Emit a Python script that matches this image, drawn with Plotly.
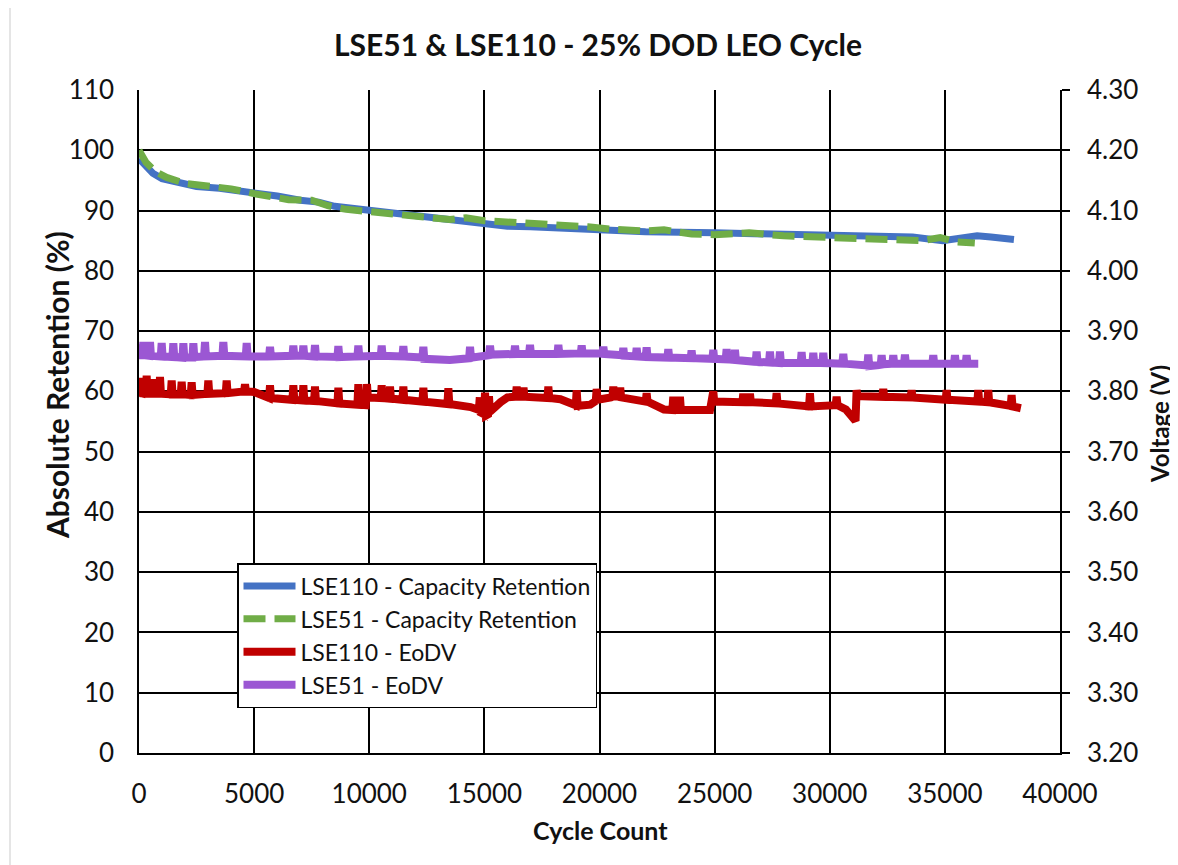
import plotly.graph_objects as go

# ---------------- data ----------------
cap110_cycles = [0, 300, 600, 1000, 1500, 2500, 3500, 5000, 6000, 7000, 7800, 8500, 10000, 11000,
                 12000, 13000, 14000, 15000, 16000, 17000, 18500, 20000, 22000, 25000, 27500, 30000,
                 32000, 33600, 34900, 35500, 36400, 37000, 38000]
cap110_values = [98.6, 97.3, 96.2, 95.3, 94.8, 94.0, 93.7, 93.0, 92.4, 91.7, 91.4, 90.7, 90.0, 89.5,
                 89.1, 88.7, 88.2, 87.7, 87.4, 87.3, 87.0, 86.7, 86.5, 86.3, 86.1, 85.9,
                 85.7, 85.6, 85.0, 85.3, 85.8, 85.6, 85.2]

cap51_cycles = [0, 300, 700, 1200, 2000, 3000, 4000, 5000, 6500, 7500, 8200, 9000, 10000, 11500,
                12500, 13500, 14200, 15000, 16500, 18000, 19500, 20500, 22000, 22800, 24000, 25000,
                26500, 28000, 30000, 31500, 33000, 34000, 34800, 35500, 36300]
cap51_values = [100.0, 98.0, 96.5, 95.5, 94.5, 94.0, 93.6, 92.8, 91.8, 91.7, 90.8, 90.2, 89.8, 89.3,
                88.7, 88.5, 88.8, 88.3, 88.0, 87.7, 87.3, 86.9, 86.6, 86.8, 86.1, 86.0,
                86.3, 85.8, 85.6, 85.4, 85.1, 85.0, 85.5, 84.8, 84.6]

eodv110_cycles = [
    0,
    110, 150, 190, 293, 333, 373, 560, 600, 640, 872, 912, 952,
    1379, 1419, 1459, 1813, 1853, 1893, 2247, 2287, 2327, 2971, 3011, 3051,
    3767, 3807, 3847, 4564, 4604, 4644, 5000, 5600,
    5650, 5690, 5730, 6663, 6703, 6743, 7098, 7138, 7178, 7604, 7644, 7684,
    8618, 8658, 8698, 9486, 9526, 9566, 9850, 9900, 9940,
    10500, 10540, 10580, 10862, 10902, 10942, 11441, 11481, 11521,
    12310, 12350, 12390, 13396, 13436, 13476, 14400, 14700,
    14760, 14800, 14840, 14990, 15028, 15068, 15160, 15200, 15240, 15700, 16000,
    16363, 16403, 16443, 16660, 16700, 16740, 17738, 17778, 17818, 18300, 18970, 19009, 19050, 19600,
    19837, 19877, 19917, 20500, 20560, 20600, 20640, 20860, 20900, 20940,
    22007, 22047, 22087, 22800, 23165, 23205, 23245, 23454, 23494, 23534, 24800, 24942, 24982,
    26205, 26245, 26285, 26494, 26534, 26574, 27652, 27692, 27732, 29100, 29140, 29180,
    30258, 30298, 30338, 30700, 30900, 31120, 31166, 31206,
    32284, 32324, 32364, 33515, 33555, 33595, 35035, 35075, 35115,
    36410, 36450, 36490, 36844, 36884, 36924, 37858, 37898, 37938, 38300]
eodv110_values = [
    3.798,
    3.797, 3.822, 3.797, 3.797, 3.826, 3.796, 3.796, 3.820, 3.796, 3.796, 3.824, 3.796,
    3.795, 3.818, 3.795, 3.795, 3.816, 3.795, 3.794, 3.815, 3.794, 3.796, 3.818, 3.796,
    3.797, 3.818, 3.797, 3.800, 3.812, 3.800, 3.799, 3.789,
    3.789, 3.810, 3.789, 3.786, 3.810, 3.786, 3.785, 3.810, 3.785, 3.784, 3.808, 3.784,
    3.780, 3.806, 3.780, 3.778, 3.812, 3.778, 3.777, 3.812, 3.790,
    3.789, 3.810, 3.789, 3.788, 3.808, 3.788, 3.786, 3.808, 3.786,
    3.783, 3.806, 3.783, 3.779, 3.805, 3.779, 3.774, 3.770,
    3.769, 3.790, 3.765, 3.762, 3.798, 3.760, 3.762, 3.792, 3.766, 3.782, 3.790,
    3.791, 3.808, 3.791, 3.791, 3.806, 3.791, 3.789, 3.808, 3.789, 3.787, 3.777, 3.802, 3.776, 3.778,
    3.784, 3.804, 3.786, 3.790, 3.791, 3.808, 3.792, 3.791, 3.806, 3.790,
    3.783, 3.797, 3.783, 3.770, 3.769, 3.791, 3.769, 3.769, 3.791, 3.769, 3.769, 3.800, 3.783,
    3.782, 3.796, 3.782, 3.782, 3.796, 3.782, 3.780, 3.797, 3.780, 3.775, 3.797, 3.775,
    3.777, 3.791, 3.777, 3.770, 3.760, 3.751, 3.802, 3.792,
    3.791, 3.804, 3.791, 3.790, 3.802, 3.790, 3.786, 3.802, 3.786,
    3.783, 3.802, 3.783, 3.782, 3.802, 3.782, 3.776, 3.794, 3.775, 3.772]

eodv51_cycles = [
    0, 40,
    149, 189, 229, 438, 478, 518, 945, 985, 1025, 1451, 1491, 1531,
    1886, 1926, 1966, 2320, 2360, 2400, 2827, 2867, 2907, 3623, 3663, 3703,
    4637, 4677, 4717, 5650, 5690, 5730, 6663, 6703, 6743, 7098, 7138, 7178,
    7604, 7644, 7684, 8618, 8658, 8698, 9486, 9526, 9566, 10500, 10540, 10580,
    11441, 11481, 11521, 12310, 12350, 12390, 13500, 14337, 14377, 14417,
    15205, 15245, 15285, 16291, 16331, 16371, 16942, 16982, 17022, 18173, 18213, 18253,
    19186, 19226, 19266, 20127, 20167, 20207, 20995, 21035, 21075, 21574, 21614, 21654,
    22007, 22047, 22087, 22948, 22988, 23028, 23959, 23999, 24039, 24902, 24942, 24982,
    25481, 25521, 25561, 25843, 25883, 25923, 26783, 26823, 26863, 27363, 27403, 27443,
    27797, 27837, 27877, 28738, 28778, 28818, 29245, 29285, 29325, 29679, 29719, 29759,
    30548, 30588, 30628, 31634, 31674, 31714, 32213, 32253, 32293, 32719, 32759, 32799,
    33226, 33266, 33306, 34456, 34496, 34536, 35397, 35437, 35477, 35904, 35944, 35984, 36450]
eodv51_values = [
    3.878, 3.860,
    3.860, 3.882, 3.860, 3.859, 3.882, 3.859, 3.858, 3.880, 3.858, 3.857, 3.880, 3.857,
    3.856, 3.880, 3.856, 3.856, 3.880, 3.857, 3.858, 3.882, 3.858, 3.859, 3.882, 3.859,
    3.858, 3.880, 3.858, 3.858, 3.874, 3.858, 3.859, 3.876, 3.859, 3.859, 3.876, 3.859,
    3.858, 3.877, 3.858, 3.857, 3.875, 3.857, 3.858, 3.876, 3.858, 3.859, 3.876, 3.859,
    3.858, 3.875, 3.858, 3.856, 3.874, 3.854, 3.852, 3.855, 3.874, 3.856,
    3.860, 3.876, 3.861, 3.862, 3.876, 3.862, 3.862, 3.877, 3.862, 3.862, 3.877, 3.862,
    3.863, 3.876, 3.863, 3.863, 3.874, 3.862, 3.860, 3.872, 3.859, 3.858, 3.872, 3.858,
    3.857, 3.873, 3.857, 3.856, 3.870, 3.856, 3.855, 3.868, 3.855, 3.854, 3.869, 3.854,
    3.853, 3.870, 3.853, 3.852, 3.869, 3.852, 3.849, 3.866, 3.849, 3.848, 3.866, 3.848,
    3.847, 3.866, 3.847, 3.847, 3.865, 3.847, 3.847, 3.864, 3.847, 3.847, 3.864, 3.847,
    3.846, 3.862, 3.846, 3.843, 3.861, 3.842, 3.844, 3.860, 3.845, 3.846, 3.860, 3.846,
    3.846, 3.861, 3.846, 3.846, 3.860, 3.846, 3.846, 3.860, 3.846, 3.846, 3.860, 3.846, 3.846]

series_names = ["LSE110 - Capacity Retention", "LSE51 - Capacity Retention",
                "LSE110 - EoDV", "LSE51 - EoDV"]

x_ticks = [0, 5000, 10000, 15000, 20000, 25000, 30000, 35000, 40000]
y_ticks = [0, 10, 20, 30, 40, 50, 60, 70, 80, 90, 100, 110]
y2_ticks = [3.2, 3.3, 3.4, 3.5, 3.6, 3.7, 3.8, 3.9, 4.0, 4.1, 4.2, 4.3]

FONT = "Lato"
INK = "#111111"
BLUE = "#4472C4"
GREEN = "#70AD47"
RED = "#C00000"
PURPLE = "#9B57D3"

fig = go.Figure()
fig.add_trace(go.Scatter(x=cap110_cycles, y=cap110_values, name=series_names[0], mode="lines",
                         line=dict(color=BLUE, width=7)))
fig.add_trace(go.Scatter(x=cap51_cycles, y=cap51_values, name=series_names[1], mode="lines",
                         line=dict(color=GREEN, width=7, dash="22px,9px")))
fig.add_trace(go.Scatter(x=eodv110_cycles, y=eodv110_values, name=series_names[2], mode="lines",
                         yaxis="y2", line=dict(color=RED, width=8)))
fig.add_trace(go.Scatter(x=eodv51_cycles, y=eodv51_values, name=series_names[3], mode="lines",
                         yaxis="y2", line=dict(color=PURPLE, width=8)))

tickfont = dict(family=FONT, size=26, color=INK)
# page body adds an 8px offset; figure size/margins compensate so the plot area
# lands at x 139..1060, y 90..753 in the 1178x865 window
fig.update_layout(
    width=1170, height=857,
    margin=dict(l=131, r=118, t=82, b=112, autoexpand=False),
    paper_bgcolor="white", plot_bgcolor="white",
    font=dict(family=FONT, color=INK),
    title=dict(text="<b>LSE51 & LSE110 - 25% DOD LEO Cycle</b>", x=(598 - 8) / 1170, xanchor="center",
               y=1 - 37 / 857, yanchor="middle", font=dict(family=FONT, size=30, color=INK)),
    xaxis=dict(range=[0, 40000], tickvals=x_ticks, tickformat="d", showgrid=True,
               gridcolor="black", gridwidth=1.5, showline=True, linecolor="black", linewidth=1.5,
               zeroline=False, ticks="", ticklabelstandoff=17, tickfont=tickfont, automargin=False),
    yaxis=dict(range=[0, 110], tickvals=y_ticks, showgrid=True, gridcolor="black", gridwidth=1.5,
               showline=True, linecolor="black", linewidth=1.5, zeroline=False, ticks="",
               ticklabelstandoff=18, tickfont=tickfont, automargin=False),
    yaxis2=dict(range=[3.2, 4.3], tickvals=y2_ticks, tickformat=".2f", overlaying="y", side="right",
                showgrid=False, showline=True, linecolor="black", linewidth=1.5, zeroline=False,
                ticks="outside", ticklen=8, tickcolor="black", tickwidth=1.5,
                ticklabelstandoff=12, tickfont=tickfont, automargin=False),
    legend=dict(x=(237 - 139) / 921, y=(753 - 563) / 663, xanchor="left", yanchor="top",
                bgcolor="white", bordercolor="black", borderwidth=1.5,
                font=dict(family=FONT, size=23, color=INK), itemwidth=52,
                tracegroupgap=0),
    showlegend=True,
)

fig.add_annotation(text="<b>Absolute Retention (%)</b>", xref="paper", yref="paper",
                   x=(57 - 139) / 921, y=(753 - 385) / 663, showarrow=False, textangle=-90,
                   xanchor="center", yanchor="middle", font=dict(family=FONT, size=30, color=INK))
fig.add_annotation(text="<b>Voltage (V)</b>", xref="paper", yref="paper",
                   x=(1159 - 139) / 921, y=(753 - 424) / 663, showarrow=False, textangle=-90,
                   xanchor="center", yanchor="middle", font=dict(family=FONT, size=24, color=INK))
fig.add_annotation(text="<b>Cycle Count</b>", xref="paper", yref="paper",
                   x=(600 - 139) / 921, y=(753 - 830) / 663, showarrow=False,
                   xanchor="center", yanchor="middle", font=dict(family=FONT, size=25, color=INK))

fig.add_shape(type="rect", xref="paper", yref="paper",
              x0=(10 - 139) / 921, x1=(1200 - 139) / 921, y0=(753 - 900) / 663, y1=(753 - 6) / 663,
              line=dict(color="#DDDDDD", width=1.5), fillcolor="rgba(0,0,0,0)", layer="below")

fig.write_html("out.html")
